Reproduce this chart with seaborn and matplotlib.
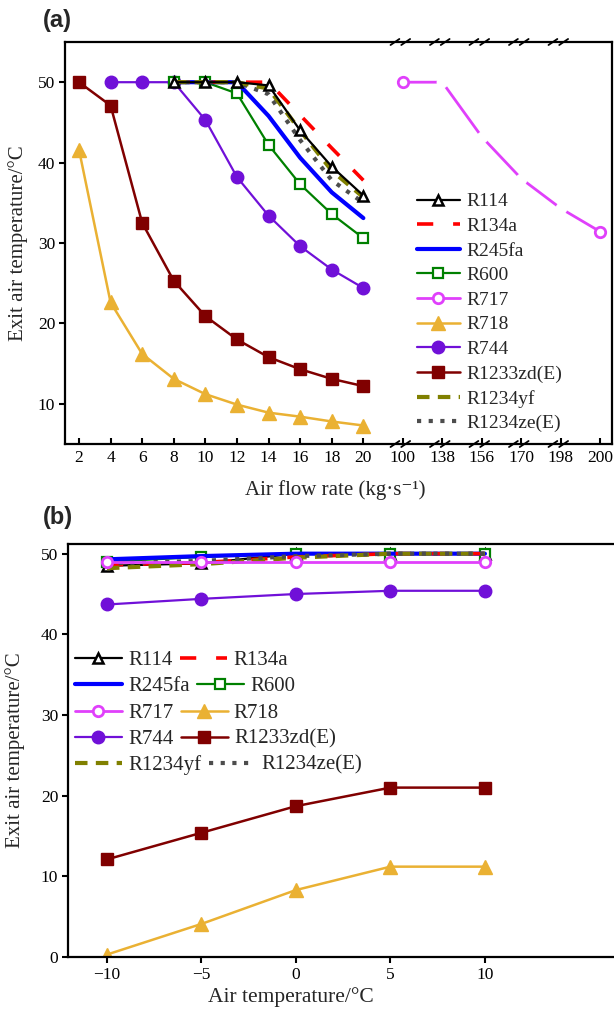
import numpy as np
import matplotlib
matplotlib.use("Agg")
import matplotlib.pyplot as plt
import seaborn as sns
from matplotlib.lines import Line2D
from matplotlib.legend import Legend
import matplotlib.transforms as mtransforms

nan = np.nan

# ---------------- data: panel (a) ----------------
flow_low = [2, 4, 6, 8, 10, 12, 14, 16, 18, 20]
flow_high = [100, 138, 156, 170, 198, 200]
flow_tick_labels = [str(v) for v in flow_low + flow_high]

a_R114 = [nan, nan, nan, 50.0, 50.0, 50.0, 49.6, 44.0, 39.5, 35.9]
a_R134a = [nan, nan, nan, 50.0, 50.0, 50.0, 50.0, 45.9, 41.8, 37.8]
a_R245fa = [nan, nan, nan, 50.0, 50.0, 50.0, 45.8, 40.6, 36.3, 33.1]
a_R600 = [nan, nan, nan, 50.0, 50.0, 48.6, 42.2, 37.3, 33.6, 30.6]
a_R718 = [41.6, 22.6, 16.2, 13.1, 11.2, 9.9, 8.9, 8.4, 7.8, 7.3]
a_R744 = [nan, 50.0, 50.0, 50.0, 45.3, 38.2, 33.4, 29.6, 26.7, 24.4]
a_R1233zdE = [50.0, 47.1, 32.5, 25.3, 20.9, 18.0, 15.8, 14.3, 13.1, 12.2]
a_R1234yf = [nan, nan, nan, 50.0, 50.0, 50.0, 49.2, 44.0, 39.0, 35.7]
a_R1234zeE = [nan, nan, nan, 50.0, 50.0, 50.0, 48.5, 42.8, 37.8, 35.0]
a_R717 = [50.0, 50.0, 43.2, 38.0, 34.3, 31.4]   # on flow_high

# ---------------- data: panel (b) ----------------
air_temp = [-10, -5, 0, 5, 10]
b_R114 = [48.5, 48.8, 50.0, 50.0, 50.0]
b_R134a = [48.6, 48.9, 49.6, 50.0, 50.0]
b_R245fa = [49.3, 49.7, 50.0, 50.0, 50.0]
b_R600 = [49.0, 49.6, 50.0, 50.0, 50.0]
b_R717 = [49.0, 49.0, 49.0, 49.0, 49.0]
b_R718 = [0.3, 4.1, 8.3, 11.2, 11.2]
b_R744 = [43.7, 44.4, 45.0, 45.4, 45.4]
b_R1233zdE = [12.1, 15.4, 18.7, 21.0, 21.0]
b_R1234yf = [48.2, 48.7, 49.5, 50.0, 50.0]
b_R1234zeE = [48.8, 49.1, 49.7, 50.0, 50.0]

names = ["R114", "R134a", "R245fa", "R600", "R717", "R718", "R744",
         "R1233zd(E)", "R1234yf", "R1234ze(E)"]

styles = {
    "R114": dict(color="black", marker="^", mfc="white", ms=7.5, mew=1.8, lw=1.6, ls="-"),
    "R134a": dict(color="#FF0000", marker="", mfc="none", ms=0, mew=0, lw=2.6, ls=(0, (4.5, 5.5))),
    "R245fa": dict(color="#0000FF", marker="", mfc="none", ms=0, mew=0, lw=3.0, ls="-"),
    "R600": dict(color="#008000", marker="s", mfc="white", ms=6.5, mew=1.6, lw=1.6, ls="-"),
    "R717": dict(color="#E040FB", marker="o", mfc="white", ms=7.5, mew=2.0, lw=2.0, ls="-"),
    "R718": dict(color="#EAB133", marker="^", mfc="#EAB133", ms=9.5, mew=1.0, lw=1.8, ls="-"),
    "R744": dict(color="#7010D8", marker="o", mfc="#7010D8", ms=9.0, mew=1.0, lw=1.6, ls="-"),
    "R1233zd(E)": dict(color="#800000", marker="s", mfc="#800000", ms=8.0, mew=1.0, lw=1.8, ls="-"),
    "R1234yf": dict(color="#808000", marker="", mfc="none", ms=0, mew=0, lw=3.0, ls=(0, (3, 2))),
    "R1234ze(E)": dict(color="#4D4D4D", marker="", mfc="none", ms=0, mew=0, lw=3.0, ls=(0, (1, 1.8))),
}

sns.set_theme(style="ticks")
plt.rcParams["font.family"] = ["Liberation Serif", "DejaVu Serif"]
plt.rcParams["mathtext.fontset"] = "stix"

W, H = 614, 1011
fig = plt.figure(figsize=(W / 100, H / 100), dpi=100)
ax1 = fig.add_axes([65 / W, 1 - 444 / H, (612 - 65) / W, (444 - 42) / H])
ax2 = fig.add_axes([68 / W, 1 - 957 / H, (614 - 68) / W, (957 - 544) / H])


def draw(ax, x, y, name, z=2):
    st = styles[name]
    x = np.asarray(x, float)
    y = np.asarray(y, float)
    m = ~np.isnan(y)
    sns.lineplot(x=x[m], y=y[m], ax=ax, sort=False, estimator=None, legend=False,
                 color=st["color"], marker=st["marker"], markersize=st["ms"],
                 markerfacecolor=st["mfc"], markeredgecolor=st["color"],
                 markeredgewidth=st["mew"], linewidth=st["lw"], linestyle=st["ls"],
                 zorder=z)
    return ax.lines[-1]


def proxy(name):
    st = styles[name]
    return Line2D([], [], color=st["color"], marker=st["marker"], markersize=st["ms"],
                  markerfacecolor=st["mfc"], markeredgecolor=st["color"],
                  markeredgewidth=st["mew"], linewidth=st["lw"], linestyle=st["ls"])


# ---------------- panel (a) ----------------
pos_low = np.arange(len(flow_low), dtype=float)
pos_high = pos_low[-1] + 1.25 * np.arange(1, len(flow_high) + 1)
pos_all = np.concatenate([pos_low, pos_high])

series_a = {
    "R1233zd(E)": a_R1233zdE, "R718": a_R718, "R744": a_R744, "R600": a_R600,
    "R245fa": a_R245fa, "R134a": a_R134a, "R1234ze(E)": a_R1234zeE,
    "R1234yf": a_R1234yf, "R114": a_R114,
}
for i, (nm, vals) in enumerate(series_a.items()):
    draw(ax1, pos_low, vals, nm, z=2 + i * 0.1)

# R717 on the broken part of the axis
st = styles["R717"]
sns.lineplot(x=pos_high, y=a_R717, ax=ax1, sort=False, estimator=None, legend=False,
             color=st["color"], linewidth=st["lw"], zorder=3)
ax1.plot(pos_high[1:-1], a_R717[1:-1], linestyle="none", marker="o", ms=8.5,
         mfc="white", mec="none", zorder=3.1)
ax1.plot(pos_high[[0, -1]], np.asarray(a_R717)[[0, -1]], linestyle="none", marker="o",
         ms=st["ms"], mfc="white", mec=st["color"], mew=st["mew"], zorder=3.2)

ax1.set_xlim(-0.443, 16.87)
ax1.set_ylim(5, 55)
ax1.set_xticks(pos_all)
ax1.set_xticklabels(flow_tick_labels)
ax1.set_yticks([10, 20, 30, 40, 50])
ax1.tick_params(axis="x", direction="in", length=4, width=1.5, labelsize=12.5, pad=4, colors="black")
ax1.tick_params(axis="y", direction="out", length=4, width=1.5, labelsize=12.5, pad=3, colors="black")
for s in ax1.spines.values():
    s.set_linewidth(1.6)
    s.set_color("black")

# break marks on top and bottom spines
trans = mtransforms.blended_transform_factory(ax1.transData, ax1.transAxes)
for p in pos_high[:-1]:
    xc = p - 0.08
    for off in (-0.17, 0.17):
        for yb in (0.0, 1.0):
            ax1.plot([xc + off - 0.14, xc + off + 0.14], [yb - 0.0075, yb + 0.0075],
                     color="black", lw=1.3, transform=trans, clip_on=False, zorder=5)

ax1.set_ylabel("Exit air temperature/°C", fontsize=15)
ax1.yaxis.set_label_coords(-0.068, 0.5)
ax1.set_xlabel("Air flow rate (kg·s⁻¹)", fontsize=15)
ax1.xaxis.set_label_coords(0.494, -0.09)

hA = [proxy(n) for n in names]
ax1.legend(hA, names, loc="upper left", bbox_to_anchor=(0.6435, 0.625), frameon=False,
           fontsize=14, handlelength=2.2, handletextpad=0.35, labelspacing=0.36,
           borderpad=0, borderaxespad=0)

# ---------------- panel (b) ----------------
series_b = {
    "R1233zd(E)": b_R1233zdE, "R718": b_R718, "R744": b_R744,
    "R114": b_R114, "R600": b_R600, "R245fa": b_R245fa, "R134a": b_R134a,
    "R1234yf": b_R1234yf, "R1234ze(E)": b_R1234zeE, "R717": b_R717,
}
for i, (nm, vals) in enumerate(series_b.items()):
    draw(ax2, air_temp, vals, nm, z=2 + i * 0.1)

ax2.set_xlim(-12.06, 16.83)
ax2.set_ylim(0, 51.2)
ax2.set_xticks(air_temp)
ax2.set_xticklabels(["\u221210", "\u22125", "0", "5", "10"])
ax2.set_yticks([0, 10, 20, 30, 40, 50])
ax2.tick_params(axis="both", direction="out", length=4, width=1.5, labelsize=12.5, pad=3, colors="black")
ax2.spines["right"].set_visible(False)
for s in ax2.spines.values():
    s.set_linewidth(1.6)
    s.set_color("black")
ax2.set_ylabel("Exit air temperature/°C", fontsize=15)
ax2.yaxis.set_label_coords(-0.079, 0.5)
ax2.set_xlabel("Air temperature/°C", fontsize=15.5)
ax2.xaxis.set_label_coords(0.408, -0.072)

rows = [("R114", "R134a", 660), ("R245fa", "R600", 686), ("R717", "R718", 713),
        ("R744", "R1233zd(E)", 739), ("R1234yf", "R1234ze(E)", 765)]
for n1, n2, yc in rows:
    leg = Legend(ax2, [proxy(n1), proxy(n2)], [n1, n2], ncol=2, loc="center left",
                 bbox_to_anchor=(75 / W, 1 - yc / H), bbox_transform=fig.transFigure,
                 frameon=False, fontsize=15, handlelength=2.25, handletextpad=0.3,
                 columnspacing=0.35, borderpad=0, borderaxespad=0)
    ax2.add_artist(leg)

fig.text(43 / W, 1 - 9 / H, "(a)", fontsize=17, fontweight="bold",
         family=["Liberation Sans", "DejaVu Sans"], va="top", ha="left")
fig.text(43 / W, 1 - 506 / H, "(b)", fontsize=17, fontweight="bold",
         family=["Liberation Sans", "DejaVu Sans"], va="top", ha="left")

fig.savefig("out.png", dpi=100)
